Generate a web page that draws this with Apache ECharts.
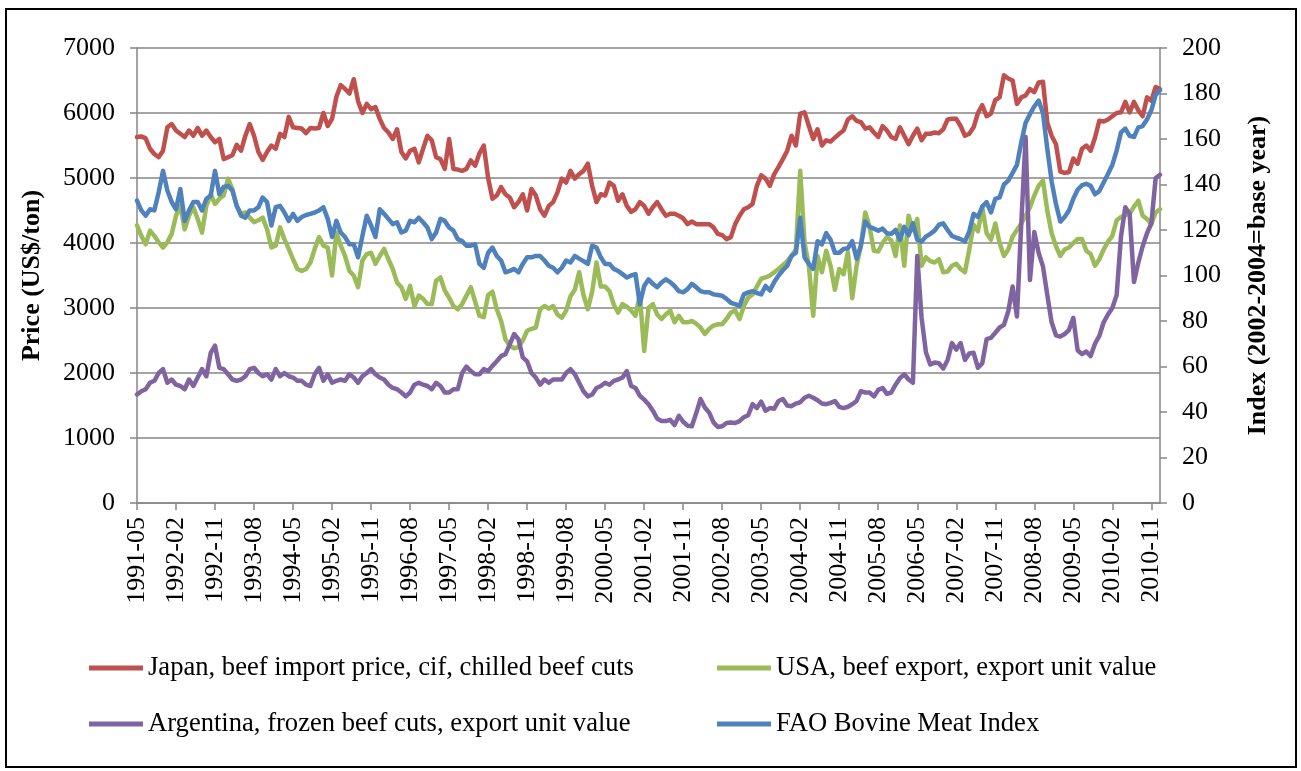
<!DOCTYPE html>
<html>
<head>
<meta charset="utf-8">
<script src="https://cdn.jsdelivr.net/npm/echarts@6/dist/echarts.min.js"></script>
<style>
  html, body { margin: 0; padding: 0; background: #fff; }
  #chart { width: 1301px; height: 771px; }
</style>
</head>
<body>
<div id="chart"></div>
<script>
// monthly labels, 1991-05 .. 2011-01
const months = [];
for (let i = 0; i < 237; i++) {
  const y = 1991 + Math.floor((4 + i) / 12);
  const m = ((4 + i) % 12) + 1;
  months.push(y + "-" + (m < 10 ? "0" + m : m));
}

// US$/ton, left axis
const japan = [
  5630,5640,5610,5450,5370,5320,5420,5780,5830,5730,5680,5630,
  5730,5650,5770,5650,5730,5630,5550,5600,5290,5320,5350,5510,
  5420,5650,5830,5650,5400,5280,5400,5500,5450,5680,5630,5940,
  5780,5770,5760,5690,5770,5760,5770,6000,5800,5910,6250,6430,
  6370,6300,6520,6180,6000,6140,6060,6090,5910,5770,5700,5600,
  5750,5400,5300,5420,5450,5240,5450,5650,5580,5320,5290,5140,
  5600,5140,5130,5110,5140,5270,5190,5380,5500,5000,4680,4730,
  4860,4750,4700,4550,4630,4750,4500,4830,4730,4520,4420,4570,
  4630,4780,4990,4930,5110,4990,5060,5110,5220,4880,4630,4750,
  4730,4930,4880,4650,4750,4570,4480,4520,4630,4570,4450,4550,
  4630,4520,4420,4450,4450,4420,4380,4290,4330,4290,4290,4290,
  4290,4240,4140,4120,4060,4090,4290,4420,4520,4550,4600,4880,
  5040,4990,4880,5060,5170,5290,5420,5650,5500,5990,6010,5800,
  5600,5750,5500,5580,5560,5620,5680,5730,5900,5950,5880,5860,
  5760,5780,5700,5630,5800,5730,5630,5600,5780,5650,5520,5650,
  5760,5580,5680,5680,5700,5690,5750,5900,5910,5910,5800,5650,
  5680,5780,6000,6120,5950,5990,6200,6240,6580,6530,6500,6140,
  6240,6270,6370,6320,6470,6480,5850,5650,5520,5100,5080,5090,
  5300,5220,5450,5500,5420,5620,5880,5870,5900,5950,6000,6010,
  6170,6010,6170,6040,5950,6240,6190,6400,6370
];

const usa = [
  4270,4110,3980,4190,4110,4010,3930,4010,4140,4420,4570,4210,
  4420,4550,4370,4160,4570,4750,4600,4680,4730,4990,4830,4570,
  4450,4470,4390,4320,4350,4390,4210,3930,3960,4240,4060,3910,
  3750,3600,3570,3600,3700,3910,4090,3960,3930,3500,4160,3960,
  3800,3570,3500,3320,3730,3830,3850,3680,3800,3910,3750,3600,
  3390,3320,3140,3340,3030,3190,3140,3060,3060,3420,3470,3270,
  3160,3030,2980,3060,3190,3320,3100,2880,2860,3200,3250,2980,
  2800,2520,2420,2380,2400,2500,2650,2680,2700,2980,3030,2990,
  3030,2900,2850,2960,3180,3280,3550,3200,2980,3250,3700,3330,
  3330,3260,3050,2930,3060,3020,2960,2880,3200,2340,3000,3060,
  2900,2830,2900,2960,2780,2880,2780,2780,2800,2760,2700,2600,
  2680,2730,2750,2750,2830,2930,2960,2830,3030,3160,3210,3330,
  3450,3470,3500,3550,3600,3660,3720,3800,3900,5110,4000,3650,
  2880,3800,3550,3880,3650,3280,3600,3520,3860,3150,3650,3960,
  4470,4250,3880,3870,4000,4090,4040,3800,4270,3650,4420,4200,
  4370,3650,3780,3720,3700,3750,3550,3560,3650,3680,3600,3550,
  3900,4280,4180,4550,4150,4050,4300,4000,3800,3900,4100,4200,
  4300,4420,4550,4730,4880,4960,4500,4150,3950,3800,3900,3930,
  4000,4060,4060,3880,3830,3650,3750,3900,4020,4110,4350,4400,
  4430,4450,4560,4650,4420,4370,4290,4470,4520
];

const argentina = [
  1670,1720,1750,1850,1880,2000,2060,1850,1900,1820,1800,1750,
  1900,1800,1930,2060,1950,2310,2420,2080,2060,1980,1900,1880,
  1900,1950,2060,2080,2000,1950,1980,1900,2060,1950,2000,1950,
  1930,1880,1880,1820,1800,1980,2080,1880,1980,1850,1880,1900,
  1880,1980,1930,1850,1950,2000,2060,1980,1930,1900,1820,1770,
  1750,1700,1640,1700,1820,1850,1820,1800,1750,1850,1800,1700,
  1700,1750,1750,2000,2100,2030,1980,1980,2060,2030,2110,2180,
  2260,2290,2440,2600,2520,2240,2180,2000,1930,1820,1900,1850,
  1900,1900,1900,2000,2060,1980,1850,1720,1640,1670,1770,1800,
  1850,1820,1880,1900,1930,2030,1800,1770,1650,1590,1520,1420,
  1300,1260,1260,1280,1200,1340,1250,1190,1180,1380,1600,1470,
  1390,1240,1170,1180,1230,1240,1230,1260,1320,1350,1520,1460,
  1560,1420,1460,1450,1570,1600,1500,1490,1530,1550,1620,1650,
  1620,1580,1530,1520,1540,1570,1480,1460,1480,1520,1570,1720,
  1700,1700,1640,1740,1770,1680,1700,1820,1920,1980,1900,1850,
  3800,2850,2320,2130,2160,2150,2070,2200,2460,2360,2460,2200,
  2300,2310,2080,2150,2520,2540,2620,2700,2740,2950,3330,2870,
  4300,5630,3430,4170,3850,3640,3200,2780,2580,2560,2600,2660,
  2850,2350,2290,2330,2260,2450,2570,2780,2900,3000,3200,4100,
  4550,4450,3400,3700,3950,4150,4300,5000,5050
];

// index, right axis
const fao = [
  132.9,128.6,126.3,129.1,128.6,136.6,146.0,137.4,132.3,129.1,138.0,124.0,
  128.6,132.3,132.3,128.6,133.7,135.1,146.0,135.7,138.9,139.4,137.4,130.6,
  126.3,125.4,128.6,128.6,130.0,134.3,132.3,122.0,130.0,130.6,127.7,124.0,
  127.1,124.0,125.7,126.6,127.1,127.7,128.6,130.0,124.9,116.9,124.0,118.9,
  116.9,113.7,113.7,108.0,117.4,126.3,122.0,116.9,129.1,127.1,124.9,122.6,
  123.4,118.9,119.7,124.0,123.4,125.4,123.4,121.1,116.0,118.9,124.9,124.0,
  121.1,119.7,116.0,115.1,113.1,113.1,113.7,105.1,103.4,110.0,112.3,108.6,
  106.6,101.4,102.0,102.9,101.4,105.1,108.0,108.0,108.6,108.6,106.6,104.3,
  103.4,101.4,103.4,106.6,105.7,108.6,107.4,106.3,105.1,113.1,112.3,108.0,
  105.1,105.1,102.9,102.0,100.6,99.1,100.0,100.6,87.4,95.4,98.3,96.3,
  94.9,96.9,98.3,97.1,95.4,93.1,92.6,94.0,96.3,94.9,93.1,92.6,
  92.6,91.7,91.4,91.1,89.7,88.0,87.4,86.6,91.7,92.6,93.1,92.3,
  91.7,95.4,93.4,97.1,100.0,102.3,104.3,108.6,110.0,125.4,108.0,105.1,
  102.9,115.1,113.7,118.6,115.7,110.0,110.0,111.7,112.0,115.1,107.4,113.1,
  123.7,121.4,120.6,119.7,120.6,118.6,118.3,120.0,115.7,121.4,117.7,122.9,
  115.7,114.9,117.1,118.3,119.7,122.3,122.9,120.0,117.4,116.6,116.0,114.9,
  119.4,127.1,125.7,130.3,132.3,127.7,133.7,134.3,140.0,141.7,145.1,148.6,
  158.6,167.1,170.9,174.3,176.9,171.4,155.7,141.4,131.4,123.7,125.7,128.6,
  133.7,137.7,139.7,140.3,139.4,135.7,137.1,140.9,144.6,148.6,154.9,162.9,
  164.6,161.4,160.9,165.1,165.7,168.6,172.6,179.4,181.4
];

const names = [
  "Japan, beef import price, cif, chilled beef cuts",
  "USA, beef export, export unit value",
  "Argentina, frozen beef cuts, export unit value",
  "FAO Bovine Meat Index"
];

const serif = '"Liberation Serif", "Times New Roman", serif';
const gray = "#868686";

const chart = echarts.init(document.getElementById("chart"));

function lineSeries(name, data, color, axis, z) {
  return {
    name: name,
    type: "line",
    data: data,
    yAxisIndex: axis,
    symbol: "none",
    z: z,
    lineStyle: { color: color, width: 4.5, join: "round", cap: "round" },
    itemStyle: { color: color },
  };
}

const legendText = { fontFamily: serif, fontSize: 26.6, color: "#000", lineHeight: 30 };

chart.setOption({
  animation: false,
  backgroundColor: "#fff",
  graphic: [
    {
      type: "rect",
      shape: { x: 6, y: 9, width: 1290, height: 758 },
      style: { fill: "none", stroke: "#000", lineWidth: 2 },
    },
  ],
  grid: { left: 137, right: 141, top: 48, bottom: 268 },
  legend: [
    {
      left: 89, top: 653, orient: "vertical", itemGap: 26, padding: 0,
      itemWidth: 54, itemHeight: 5, icon: "rect",
      data: [names[0], names[2]], textStyle: legendText,
    },
    {
      left: 717, top: 653, orient: "vertical", itemGap: 26, padding: 0,
      itemWidth: 54, itemHeight: 5, icon: "rect",
      data: [names[1], names[3]], textStyle: legendText,
    },
  ],
  xAxis: {
    type: "category",
    data: months,
    boundaryGap: false,
    axisLine: { lineStyle: { color: gray, width: 1.5 } },
    axisTick: { interval: 8, length: 7, lineStyle: { color: gray, width: 1.5 } },
    axisLabel: {
      interval: 8, rotate: 90, margin: 14,
      fontFamily: serif, fontSize: 26, color: "#000",
    },
  },
  yAxis: [
    {
      type: "value", min: 0, max: 7000, interval: 1000,
      name: "Price (US$/ton)", nameLocation: "middle", nameRotate: 90, nameGap: 92,
      nameTextStyle: { fontFamily: serif, fontSize: 26, fontWeight: "bold", color: "#000" },
      axisLine: { show: true, lineStyle: { color: gray, width: 1.5 } },
      axisTick: { show: true, length: 7, lineStyle: { color: gray, width: 1.5 } },
      axisLabel: {
        margin: 22, fontFamily: serif, fontSize: 26, color: "#000",
        formatter: (v) => String(v),
      },
      splitLine: { lineStyle: { color: gray, width: 1.5 } },
    },
    {
      type: "value", min: 0, max: 200, interval: 20, position: "right",
      name: "Index (2002-2004=base year)", nameLocation: "middle", nameRotate: 90, nameGap: 85,
      nameTextStyle: { fontFamily: serif, fontSize: 26, fontWeight: "bold", color: "#000" },
      axisLine: { show: true, lineStyle: { color: gray, width: 1.5 } },
      axisTick: { show: true, length: 7, lineStyle: { color: gray, width: 1.5 } },
      axisLabel: { margin: 22, fontFamily: serif, fontSize: 26, color: "#000" },
      splitLine: { show: false },
    },
  ],
  series: [
    lineSeries(names[0], japan, "#C0504D", 0, 2),
    lineSeries(names[1], usa, "#9BBB59", 0, 3),
    lineSeries(names[3], fao, "#4F81BD", 1, 4),
    lineSeries(names[2], argentina, "#8064A2", 0, 5),
  ],
});
</script>
</body>
</html>
